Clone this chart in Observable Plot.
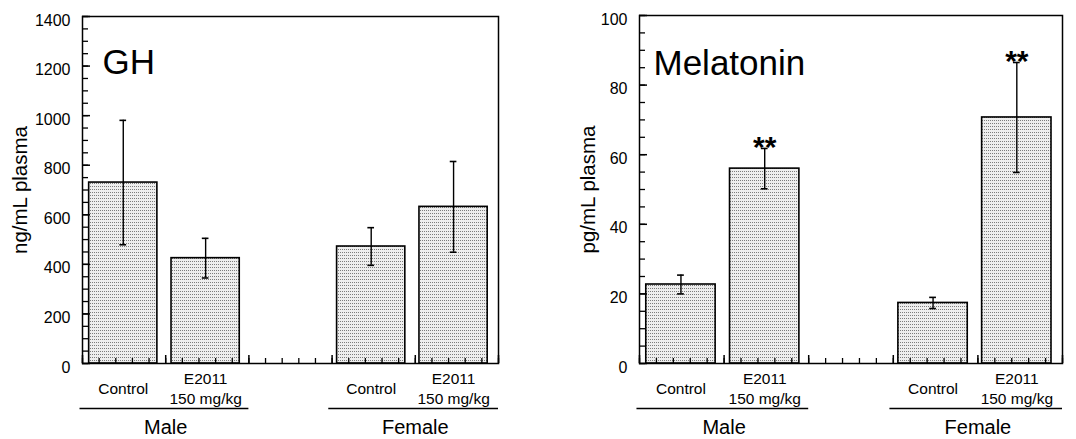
<!DOCTYPE html>
<html><head><meta charset="utf-8">
<script src="https://cdn.jsdelivr.net/npm/d3@7"></script>
<script src="https://cdn.jsdelivr.net/npm/@observablehq/plot@0.6"></script>
<style>
html,body{margin:0;padding:0;background:#fff;}
#wrap{display:flex;width:1076px;height:439px;}
</style></head><body><div id="wrap"></div>
<script>
const groups = ["Male", "Female"];
const treatments = ["Control", "E2011\n150 mg/kg"];
const ghMean = [730, 425, 472, 632];
const ghErr = [251, 80, 76, 183];
const ghTicks = [0, 200, 400, 600, 800, 1000, 1200, 1400];
const melMean = [22.7, 56, 17.4, 70.7];
const melErr = [2.7, 5.8, 1.6, 15.8];
const melSig = ["", "**", "", "**"];
const melTicks = [0, 20, 40, 60, 80, 100];

function rows(mean, err, sig) {
  const out = [];
  groups.forEach((g, gi) => treatments.forEach((t, ti) => {
    const i = gi * 2 + ti;
    const x1 = 0.4 + 4.95 * ti + 14.9 * gi;
    out.push({group: g, treatment: t, mean: mean[i], err: err[i], sig: sig ? sig[i] : "", x1, x2: x1 + 4.1, xc: x1 + 2.05});
  }));
  return out;
}
const groupRows = groups.map((g, gi) => ({group: g, x1: gi ? 14.8 : -0.15, x2: gi ? 25 : 10, xc: gi ? 20 : 5}));

function panel({title, yLabel, mean, err, sig, ticks, minorStep, width, ml, mr, mt, titleDx, titleDy, labelDx}) {
  const data = rows(mean, err, sig);
  const yMax = ticks[ticks.length - 1];
  const svg = Plot.plot({
    width, height: 439,
    marginLeft: ml, marginRight: mr, marginTop: mt, marginBottom: 76,
    x: {domain: [0, 25]},
    y: {domain: [0, yMax]},
    style: {fontFamily: "'Liberation Sans', Arial, sans-serif", fontSize: "16px", background: "white", color: "black", overflow: "visible"},
    marks: [
      Plot.rectY(data, {x1: "x1", x2: "x2", y1: d => 0, y2: "mean", fill: "url(#stip)", stroke: "black", strokeWidth: 1.6}),
      Plot.ruleX(data, {x: "xc", y1: d => d.mean - d.err, y2: d => d.mean + d.err, strokeWidth: 1.4}),
      Plot.ruleY(data, {y: d => d.mean + d.err, x1: d => d.xc - 0.2, x2: d => d.xc + 0.2, strokeWidth: 1.6}),
      Plot.ruleY(data, {y: d => d.mean - d.err, x1: d => d.xc - 0.2, x2: d => d.xc + 0.2, strokeWidth: 1.6}),
      Plot.text(data, {x: "xc", y: d => d.mean + d.err, text: "sig", fontSize: 30, fontWeight: "bold", dy: -1}),
      Plot.frame({strokeWidth: 1.5}),
      Plot.axisY(ticks, {tickSize: 8, dx: 8, fill: "none", label: null, strokeWidth: 1.5}),
      Plot.axisY(d3.range(0, yMax + 1e-9, minorStep), {tickSize: 6, dx: 6, fill: "none", label: null, strokeWidth: 1.3}),
      Plot.axisY(ticks, {tickSize: 0, tickPadding: 12, dy: 4, label: null, fontSize: 16, tickFormat: d => String(d)}),
      Plot.axisX(d3.range(0, 26, 5), {tickSize: 8, dy: -8, fill: "none", label: null, strokeWidth: 1.5}),
      Plot.axisX(d3.range(0, 26, 1), {tickSize: 5, dy: -5, fill: "none", label: null, strokeWidth: 1.3}),
      Plot.text(data, {x: "xc", y: d => 0, text: "treatment", dy: 24, lineHeight: 1.3, fontSize: 15.5, lineAnchor: "middle"}),
      Plot.ruleY(groupRows, {x1: "x1", x2: "x2", y: d => 0, dy: 45, strokeWidth: 1.5}),
      Plot.text(groupRows, {x: "xc", y: d => 0, text: "group", dy: 64, fontSize: 20}),
      Plot.text([title], {frameAnchor: "top-left", textAnchor: "start", lineAnchor: "top", dx: titleDx, dy: titleDy, fontSize: 35}),
      Plot.text([yLabel], {frameAnchor: "left", textAnchor: "middle", rotate: -90, dx: labelDx, fontSize: 20.5})
    ]
  });
  const defs = d3.select(svg).insert("defs", ":first-child");
  const pat = defs.append("pattern").attr("id", "stip").attr("width", 2).attr("height", 3).attr("patternUnits", "userSpaceOnUse");
  pat.append("rect").attr("width", 2).attr("height", 3).attr("fill", "#eeeeee");
  pat.append("rect").attr("width", 1).attr("height", 1).attr("fill", "#7c7c7c");
  return svg;
}

const wrap = document.getElementById("wrap");
wrap.appendChild(panel({title: "GH", yLabel: "ng/mL plasma", mean: ghMean, err: ghErr, sig: null, ticks: ghTicks, minorStep: 50, width: 540, ml: 82, mr: 42, mt: 16, titleDx: 20, titleDy: 33, labelDx: -62}));
wrap.appendChild(panel({title: "Melatonin", yLabel: "pg/mL plasma", mean: melMean, err: melErr, sig: melSig, ticks: melTicks, minorStep: 5, width: 536, ml: 99, mr: 14, mt: 15, titleDx: 14, titleDy: 35, labelDx: -51}));
</script></body></html>
